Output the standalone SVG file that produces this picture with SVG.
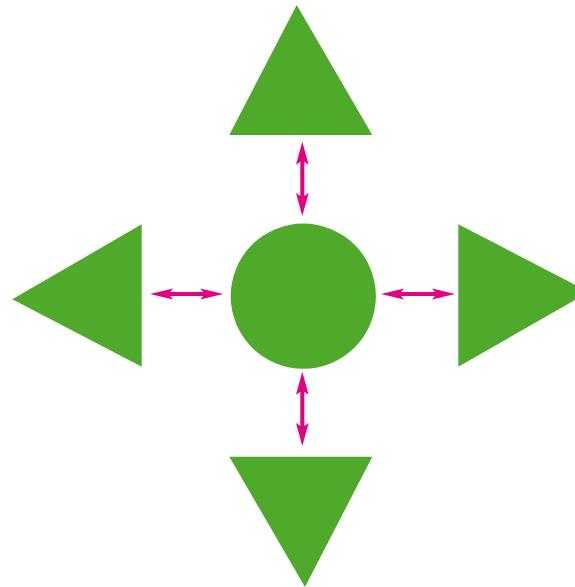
<svg xmlns="http://www.w3.org/2000/svg" width="575" height="587" viewBox="0 0 575 587">
<style>
.node{fill:#4FAA2B;stroke:none}
.arrow{fill:#E6007E;stroke:none}
</style>
<rect width="575" height="587" fill="#ffffff"/>
<g id="top"><polygon class="node" points="296.7,5 372.3,135 229.3,135"/></g>
<g id="bottom"><polygon class="node" points="229.3,456.7 372.3,456.7 305,587"/></g>
<g id="left"><polygon class="node" points="141.7,224.3 141.7,366.7 12.3,299.3"/></g>
<g id="right"><polygon class="node" points="458.3,224.3 589,292 458.3,366.7"/></g>
<g id="center"><circle class="node" cx="303.3" cy="296.2" r="72.6"/></g>
<g id="connectors">
<path class="arrow" d="M302.3,141.7 L308.6,164.7 L304.3,161.7 L304.3,196 L308.6,193 L302.3,216 L296,193 L300.3,196 L300.3,161.7 L296,164.7 Z"/>
<path class="arrow" d="M302.3,371.7 L308.6,394.7 L304.3,391.7 L304.3,426 L308.6,423 L302.3,446 L296,423 L300.3,426 L300.3,391.7 L296,394.7 Z"/>
<path class="arrow" d="M150,294 L173,288.5 L170,292 L203.3,292 L200.3,288.5 L223.3,294 L200.3,299.5 L203.3,296 L170,296 L173,299.5 Z"/>
<path class="arrow" d="M381,294 L404,288.5 L401,292 L435,292 L432,288.5 L455,294 L432,299.5 L435,296 L401,296 L404,299.5 Z"/>
</g>
</svg>
